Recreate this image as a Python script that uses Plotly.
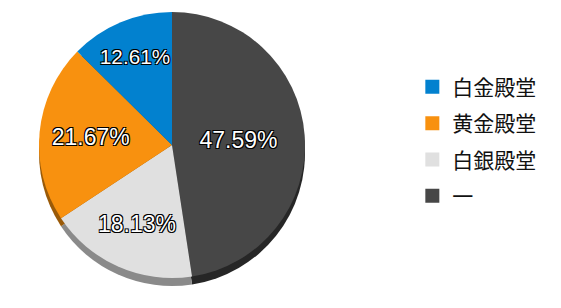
import plotly.graph_objects as go

labels = ["白金殿堂", "黄金殿堂", "白銀殿堂", "一"]
values = [12.61, 21.67, 18.13, 47.59]
colors = ["#0281CF", "#F8910F", "#E0E0E0", "#474747"]
shadow_colors = ["#01507f", "#9a5a08", "#8a8a8a", "#262626"]

W, H = 561, 308
cx, cy, r, depth = 172, 145, 133, 8

def dom(cx, cy, r):
    return dict(x=[(cx - r) / W, (cx + r) / W], y=[1 - (cy + r) / H, 1 - (cy - r) / H])

outline = "-1px -1px 0 #000, 1px -1px 0 #000, -1px 1px 0 #000, 1px 1px 0 #000"

# slices run counterclockwise from 12 o'clock in legend order
pl, pv, pc, ps = labels[::-1], values[::-1], colors[::-1], shadow_colors[::-1]

fig = go.Figure()
fig.add_trace(go.Pie(
    labels=[l + " " for l in pl], values=pv, sort=False,
    direction="clockwise", rotation=0,
    marker=dict(colors=ps, line=dict(width=0)),
    textinfo="none", showlegend=False, hoverinfo="skip",
    domain=dom(cx, cy + depth, r),
))
fig.add_trace(go.Pie(
    labels=pl, values=pv, sort=False,
    direction="clockwise", rotation=0,
    marker=dict(colors=pc, line=dict(width=0)),
    texttemplate="%{value:.2f}%", textposition="inside",
    insidetextorientation="horizontal",
    textfont=dict(family="Liberation Sans", size=23, color="white", shadow=outline),
    domain=dom(cx, cy, r), showlegend=False,
))
for lab, col in zip(labels, colors):
    fig.add_trace(go.Scatter(
        x=[None], y=[None], mode="markers", name=lab, legendgroup=lab,
        marker=dict(symbol="square", size=14, color=col),
    ))
fig.update_layout(
    width=W, height=H, margin=dict(l=0, r=0, t=0, b=0),
    paper_bgcolor="white", plot_bgcolor="white",
    xaxis=dict(visible=False), yaxis=dict(visible=False),
    legend=dict(x=0.735, y=0.54, xanchor="left", yanchor="middle",
                font=dict(family="Noto Sans CJK JP", size=21, color="#111"),
                itemwidth=30, tracegroupgap=6),
)
fig.write_html("out.html")
